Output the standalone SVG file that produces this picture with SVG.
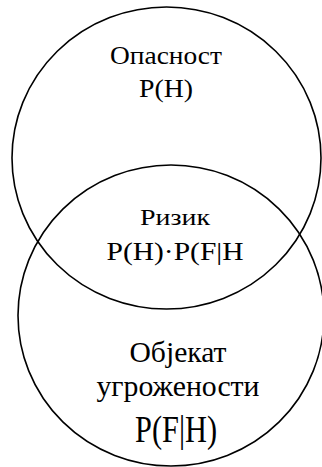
<svg xmlns="http://www.w3.org/2000/svg" width="322" height="467" viewBox="0 0 322 467">
<style>
.c{fill:none;stroke:#000;stroke-width:1.6}
.t{font-family:'Liberation Serif','Times New Roman',serif;fill:#000;text-anchor:middle}
</style>
<rect width="322" height="467" fill="#fff"/>
<g id="hazard">
<ellipse class="c" cx="166.5" cy="158" rx="154.5" ry="151"/>
<text class="t" x="166" y="64" font-size="25" textLength="112" lengthAdjust="spacingAndGlyphs">Опасност</text>
<text class="t" x="166" y="97" font-size="25" textLength="54" lengthAdjust="spacingAndGlyphs">P(H)</text>
</g>
<g id="object">
<ellipse class="c" cx="171" cy="315.5" rx="153" ry="150.5"/>
<text class="t" x="178" y="361.5" font-size="30" textLength="97" lengthAdjust="spacingAndGlyphs">Објекат</text>
<text class="t" x="178" y="396" font-size="30" textLength="163" lengthAdjust="spacingAndGlyphs">угрожености</text>
<text class="t" x="176" y="442" font-size="38" textLength="82" lengthAdjust="spacingAndGlyphs">P(F|H)</text>
</g>
<g id="risk">
<text class="t" x="175" y="225" font-size="24" textLength="70" lengthAdjust="spacingAndGlyphs">Ризик</text>
<text class="t" x="175" y="260" font-size="26" textLength="137" lengthAdjust="spacingAndGlyphs">P(H)·P(F|H</text>
</g>
</svg>
